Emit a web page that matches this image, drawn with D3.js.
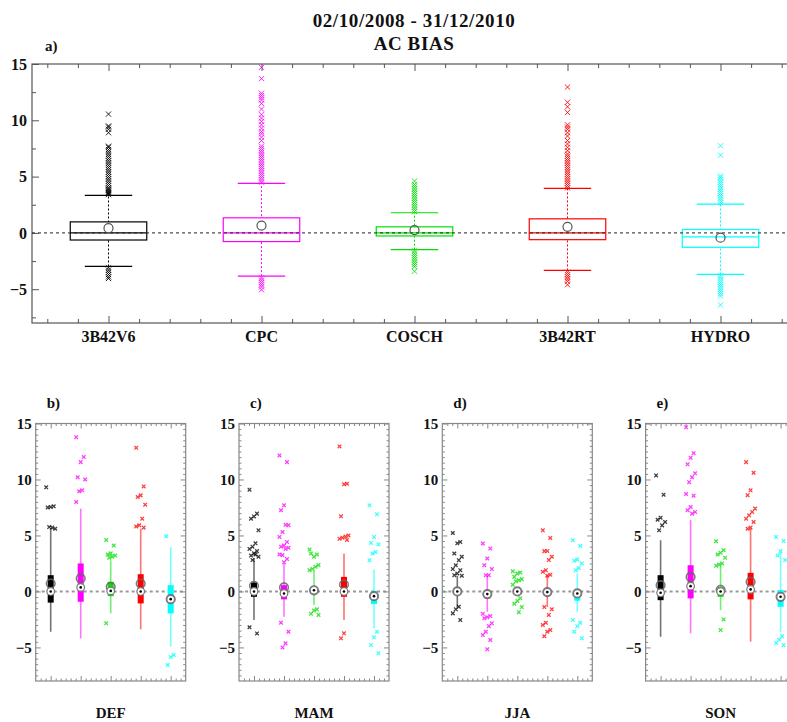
<!DOCTYPE html>
<html>
<head>
<meta charset="utf-8">
<script src="https://cdn.jsdelivr.net/npm/d3@7"></script>
<style>
  body { margin: 0; background: #fff; }
  text { font-family: "Liberation Serif", "DejaVu Serif", serif; font-weight: bold; fill: #111; }
</style>
</head>
<body>
<div class="chart"></div>
<script>
// box stats, all values in mm/day bias

const categories = ["3B42V6", "CPC", "COSCH", "3B42RT", "HYDRO"];
const colors = ["#000000", "#ff00ff", "#00e000", "#ff0000", "#00ffff"];

// panel a) whole period
const allQ1 = [-0.63, -0.77, -0.27, -0.6, -1.28];
const allMedian = [0, 0, 0, 0, -0.36];
const allQ3 = [0.98, 1.34, 0.54, 1.25, 0.3];
const allMean = [0.42, 0.65, 0.24, 0.54, -0.42];
const allLow = [-2.98, -3.84, -1.49, -3.33, -3.69];
const allHigh = [3.33, 4.4, 1.79, 3.96, 2.56];
const allOutliers = [
  [3.4, 3.5, 3.6, 3.7, 3.8, 3.9, 4.0, 4.2, 4.4, 4.6, 4.8, 5.0, 5.2, 5.4, 5.6, 5.8, 6.0, 6.2, 6.4, 6.6, 6.8, 7.0, 7.2, 7.4, 7.6, 7.7, 8.9, 9.2, 9.4, 9.5, 10.55,
   -3.1, -3.3, -3.5, -3.7, -3.9, -4.05],
  [4.5, 4.7, 4.9, 5.1, 5.3, 5.5, 5.7, 5.9, 6.1, 6.3, 6.5, 6.7, 6.9, 7.1, 7.3, 7.5, 7.7, 8.2, 8.5, 8.8, 9.0, 9.3, 9.6, 9.9, 10.2, 10.5, 11.0, 11.5, 11.8, 12.0, 12.2, 12.4, 13.7, 14.7,
   -4.0, -4.2, -4.4, -4.6, -4.8, -5.05],
  [1.9, 2.1, 2.3, 2.5, 2.7, 2.9, 3.1, 3.3, 3.5, 3.7, 3.9, 4.1, 4.3, 4.6,
   -1.6, -1.8, -2.0, -2.2, -2.4, -2.6, -2.8, -3.0, -3.4],
  [4.0, 4.2, 4.4, 4.6, 4.8, 5.0, 5.2, 5.4, 5.6, 5.8, 6.0, 6.2, 6.4, 6.6, 6.8, 7.0, 7.3, 7.6, 7.9, 8.2, 8.6, 8.9, 9.2, 9.4, 9.6, 10.7, 11.2, 11.6, 12.95,
   -3.5, -3.7, -3.9, -4.1, -4.3, -4.6],
  [2.7, 2.9, 3.1, 3.3, 3.5, 3.7, 3.9, 4.1, 4.3, 4.5, 4.7, 4.9, 5.06, 6.9, 7.74,
   -3.8, -4.0, -4.2, -4.4, -4.6, -4.8, -5.0, -5.2, -5.4, -5.6, -6.4]
];

// panels b) - e) by season, one row per season, one column per product
const seasons = ["DEF", "MAM", "JJA", "SON"];
const seasonLetters = ["b)", "c)", "d)", "e)"];
const seasonQ1 = [
  [-1.0, -0.92, -0.42, -1.07, -1.96],
  [-0.48, -0.71, -0.18, -0.48, -1.13],
  [-0.2, -0.62, -0.2, -0.4, -0.83],
  [-0.78, -0.62, -0.48, -0.71, -1.37]
];
const seasonMedian = [
  [0, 0.36, 0.05, 0, -0.69],
  [0, -0.18, 0.1, 0, -0.42],
  [0, -0.24, 0, -0.06, -0.18],
  [-0.12, 0.47, 0, 0.18, -0.48]
];
const seasonQ3 = [
  [1.45, 2.5, 0.86, 1.54, 0.56],
  [0.8, 0.56, 0.41, 1.3, 0.05],
  [0.2, -0.04, 0.1, 0.2, 0.05],
  [1.45, 2.34, 0.41, 1.66, 0.12]
];
const seasonMean = [
  [0.71, 1.16, 0.41, 0.71, -0.69],
  [0.5, 0.36, 0.1, 0.62, -0.42],
  [0, -0.24, 0, -0.06, -0.18],
  [0.56, 1.3, 0.15, 0.86, -0.48]
];
const seasonLow = [
  [-3.6, -4.2, -1.96, -3.39, -4.93],
  [-2.56, -2.26, -1.22, -2.56, -3.3],
  [-1.4, -1.82, -0.3, -1.4, -1.85],
  [-4.05, -3.74, -1.67, -4.49, -3.6]
];
const seasonHigh = [
  [5.6, 7.4, 2.79, 5.61, 3.97],
  [2.97, 2.5, 1.9, 3.39, 1.96],
  [1.4, 1.45, 0.3, 1.45, 1.6],
  [4.57, 6.41, 2.34, 5.61, 3.5]
];
const defOutliers = [
  [9.3, 7.6, 7.55, 7.5, 5.6, 5.7, 5.75],
  [13.78, 12.0, 11.55, 10.2, 10.0, 9.03, 8.95, 7.99],
  [4.6, 4.1, 3.4, 3.3, 3.2, 3.1, 3.0, -2.85],
  [12.83, 9.38, 8.58, 8.43, 7.75, 6.5, 5.91, 5.8, 5.7],
  [4.93, -5.68, -5.86, -6.57]
];
const mamOutliers = [
  [9.09, 6.95, 6.7, 6.5, 5.46, 4.3, 4.0, 3.8, 3.6, 3.4, 3.2, 3.1, 3.3, 2.8, -3.2, -3.75],
  [12.15, 11.55, 7.69, 7.25, 5.91, 5.95, 5.31, 4.87, 4.42, 4.1, 4.0, 3.9, 3.8, 3.23, 3.3, 2.9, 2.6, -2.8, -3.6, -4.64, -5.0],
  [3.74, 3.3, 3.1, 3.39, 2.35, 2.2, 2.0, 1.9, -1.6, -1.7, -2.0, -2.1],
  [12.95, 9.62, 9.57, 6.71, 5.0, 4.9, 4.8, 4.7, 4.6, -3.74, -4.19],
  [7.69, 6.89, 4.87, 4.33, 4.2, 3.53, 3.39, 2.79, -3.6, -4.1, -4.78, -5.53]
];
const jjaOutliers = [
  [5.22, 4.42, 4.3, 3.39, 3.1, 2.79, 2.34, 2.0, 1.9, 1.6, 1.45, 1.4, -1.37, -1.6, -1.96, -2.56],
  [4.28, 3.83, 2.94, 2.34, 2.0, 1.45, 1.45, -2.0, -2.2, -2.3, -2.4, -2.85, -3.1, -3.6, -3.9, -4.34, -5.17],
  [1.8, 1.7, 1.6, 1.3, 1.1, 1.0, 0.9, 0.6, -0.6, -0.85, -1.1, -1.4, -1.85],
  [5.46, 4.78, 3.62, 3.6, 3.1, 2.8, 1.9, 1.75, 1.5, 1.4, -1.4, -1.6, -2.1, -2.8, -3.0, -3.45, -3.6, -4.0],
  [4.57, 4.05, 2.85, 2.75, 2.5, 2.1, 1.9, -2.56, -2.8, -3.1, -3.6, -4.19]
];
const sonOutliers = [
  [10.36, 8.64, 6.59, 6.4, 6.2, 5.9, 5.46],
  [14.67, 12.35, 11.95, 11.35, 10.55, 10.2, 9.76, 8.7, 8.55, 7.54, 7.25, 7.1, 6.95],
  [4.48, 3.68, 3.45, 3.3, 3.0, 2.5, 2.4, 2.3, -2.5, -3.45],
  [11.55, 10.6, 9.03, 8.6, 7.4, 7.1, 6.8, 6.5, 6.2, 5.7, 5.6],
  [4.87, 4.5, 3.6, 3.2, 2.8, -4.0, -4.3, -4.6, -4.8]
];
const seasonOutliers = [defOutliers, mamOutliers, jjaOutliers, sonOutliers];

const yMajor = [-5, 0, 5, 10, 15];
const yDomain = [-8, 15];

const widthOfSvg = 787;
const heightOfSvg = 722;

const svg = d3.select(".chart")
  .append("svg")
  .attr("width", widthOfSvg)
  .attr("height", heightOfSvg);

svg.append("rect").attr("width", widthOfSvg).attr("height", heightOfSvg).attr("fill", "#fff");

// little helper for x markers
function cross(g, cx, cy, s, color, width, opacity) {
  g.append("path")
    .attr("d", `M${cx - s},${cy - s}L${cx + s},${cy + s}M${cx - s},${cy + s}L${cx + s},${cy - s}`)
    .attr("stroke", color)
    .attr("stroke-width", width)
    .attr("stroke-opacity", opacity)
    .attr("fill", "none");
}

// draws frame + inward ticks on all four sides
function drawFrame(g, x, y, opts) {
  const [x0, x1] = x.range();
  const [y0, y1] = y.range();
  g.append("rect")
    .attr("x", x0).attr("y", y1)
    .attr("width", x1 - x0).attr("height", y0 - y1)
    .attr("fill", "none")
    .attr("stroke", opts.color)
    .attr("stroke-width", 1.2);

  const sides = [
    [() => d3.axisBottom(x), "translate(0," + y0 + ")", opts.xMinor, opts.xMajor],
    [() => d3.axisTop(x), "translate(0," + y1 + ")", opts.xMinor, opts.xMajor],
    [() => d3.axisLeft(y), "translate(" + x0 + ",0)", opts.yMinor, yMajor],
    [() => d3.axisRight(y), "translate(" + x1 + ",0)", opts.yMinor, yMajor]
  ];
  sides.forEach(([makeAxis, tr, minor, major], i) => {
    const gm = g.append("g").attr("transform", tr)
      .call(makeAxis().tickValues(minor).tickSize(-opts.minorLen).tickFormat(""));
    const gM = g.append("g").attr("transform", tr)
      .call(makeAxis().tickValues(major).tickSize(-opts.majorLen).tickPadding(opts.pad)
        .tickFormat(i == 2 ? d3.format("d") : ""));
    [gm, gM].forEach(a => {
      a.select(".domain").remove();
      a.selectAll("line").attr("stroke", opts.color).attr("stroke-width", 1);
    });
    gM.selectAll("text")
      .style("font-family", '"Liberation Serif", serif')
      .style("font-weight", "bold")
      .style("font-size", opts.fontSize + "px")
      .attr("fill", "#111");
  });
}

// ---------- panel a) ----------
const xTop = d3.scaleLinear().domain([-0.5, 4.5]).range([32, 797]);
const yTop = d3.scaleLinear().domain(yDomain).range([323, 64]);

svg.append("text").attr("x", 414).attr("y", 27).attr("text-anchor", "middle")
  .style("font-size", "19px").style("letter-spacing", "0.6px").text("02/10/2008 - 31/12/2010");
svg.append("text").attr("x", 414).attr("y", 50).attr("text-anchor", "middle")
  .style("font-size", "19px").style("letter-spacing", "0.6px").text("AC BIAS");
svg.append("text").attr("x", 45).attr("y", 51).style("font-size", "15px").text("a)");

const gTop = svg.append("g");

drawFrame(gTop, xTop, yTop, {
  color: "#555",
  xMinor: d3.range(-0.4, 4.5, 0.2).filter(v => Math.abs(v - Math.round(v)) > 0.01),
  xMajor: d3.range(0, 5),
  yMinor: [-7.5, -2.5, 2.5, 7.5, 12.5],
  minorLen: 4, majorLen: 7, pad: 5, fontSize: 16
});

categories.forEach((c, i) => {
  const cx = xTop(i);
  const col = colors[i];
  const g = gTop.append("g");
  // whisker (dotted)
  g.append("line").attr("x1", cx).attr("x2", cx)
    .attr("y1", yTop(allLow[i])).attr("y2", yTop(allHigh[i]))
    .attr("stroke", col).attr("stroke-width", 1).attr("stroke-dasharray", "2,2");
  // caps
  [allLow[i], allHigh[i]].forEach(v => {
    g.append("line").attr("x1", xTop(i - 0.155)).attr("x2", xTop(i + 0.155))
      .attr("y1", yTop(v)).attr("y2", yTop(v))
      .attr("stroke", col).attr("stroke-width", 1.2);
  });
  // box
  g.append("rect")
    .attr("x", xTop(i - 0.25)).attr("width", xTop(i + 0.25) - xTop(i - 0.25))
    .attr("y", yTop(allQ3[i])).attr("height", yTop(allQ1[i]) - yTop(allQ3[i]))
    .attr("fill", "#fff").attr("stroke", col).attr("stroke-width", 1.2);
  g.append("line").attr("x1", xTop(i - 0.25)).attr("x2", xTop(i + 0.25))
    .attr("y1", yTop(allMedian[i])).attr("y2", yTop(allMedian[i]))
    .attr("stroke", col).attr("stroke-width", 1.2);
  // outliers
  allOutliers[i].forEach(v => cross(g, cx, yTop(v), 2.6, col, 1, 0.85));
  // category label
  svg.append("text").attr("x", cx).attr("y", 342).attr("text-anchor", "middle")
    .style("font-size", "16px").text(c);
});

// zero line over the boxes, then the means
gTop.append("line")
  .attr("x1", xTop.range()[0]).attr("x2", xTop.range()[1])
  .attr("y1", yTop(0)).attr("y2", yTop(0))
  .attr("stroke", "#222").attr("stroke-width", 1).attr("stroke-dasharray", "3,3");

categories.forEach((c, i) => {
  gTop.append("circle").attr("cx", xTop(i)).attr("cy", yTop(allMean[i])).attr("r", 4.5)
    .attr("fill", "none").attr("stroke", "#555").attr("stroke-width", 1.2);
});

// ---------- panels b) - e) ----------
seasons.forEach((s, k) => {
  const left = 35.7 + 203.3 * k;
  const x = d3.scaleLinear().domain([-0.5, 4.5]).range([left, left + 150]);
  const y = d3.scaleLinear().domain(yDomain).range([681, 423.5]);
  const g = svg.append("g");

  g.append("line")
    .attr("x1", x.range()[0]).attr("x2", x.range()[1])
    .attr("y1", y(0)).attr("y2", y(0))
    .attr("stroke", "#999").attr("stroke-width", 2).attr("stroke-dasharray", "3,3");

  drawFrame(g, x, y, {
    color: "#888",
    xMinor: d3.range(-0.5 + 1 / 6, 4.5, 1 / 6).filter(v => Math.abs(v - Math.round(v)) > 0.01),
    xMajor: d3.range(0, 5),
    yMinor: d3.range(-7.5, 15, 0.5).filter(v => v % 5 != 0),
    minorLen: 2.5, majorLen: 5, pad: 4, fontSize: 15
  });

  svg.append("text").attr("x", left + 11).attr("y", 408).style("font-size", "15px").text(seasonLetters[k]);
  svg.append("text").attr("x", left + 75).attr("y", 718).attr("text-anchor", "middle")
    .style("font-size", "15px").text(s);

  categories.forEach((c, i) => {
    const cx = x(i);
    const col = colors[i];
    // whisker
    g.append("line").attr("x1", cx).attr("x2", cx)
      .attr("y1", y(seasonLow[k][i])).attr("y2", y(seasonHigh[k][i]))
      .attr("stroke", col).attr("stroke-width", 1.6).attr("stroke-opacity", 0.55);
    // box
    g.append("rect").attr("x", cx - 3).attr("width", 6)
      .attr("y", y(seasonQ3[k][i]))
      .attr("height", Math.max(1.5, y(seasonQ1[k][i]) - y(seasonQ3[k][i])))
      .attr("fill", col);
    // outliers, spread a bit sideways
    seasonOutliers[k][i].forEach((v, j) => {
      const dx = ((j * 5) % 7 - 3) * 1.5;
      cross(g, cx + dx, y(v), 1.8, col, 1.3, 0.75);
    });
    // mean
    g.append("circle").attr("cx", cx).attr("cy", y(seasonMean[k][i])).attr("r", 4.3)
      .attr("fill", "none").attr("stroke", "#666").attr("stroke-width", 1.6).attr("stroke-opacity", 0.85);
    // median
    g.append("circle").attr("cx", cx).attr("cy", y(seasonMedian[k][i])).attr("r", 3.8)
      .attr("fill", "#fff").attr("stroke", "#777").attr("stroke-width", 1.2);
    g.append("circle").attr("cx", cx).attr("cy", y(seasonMedian[k][i])).attr("r", 1.3)
      .attr("fill", "#000");
  });
});
</script>
</body>
</html>
